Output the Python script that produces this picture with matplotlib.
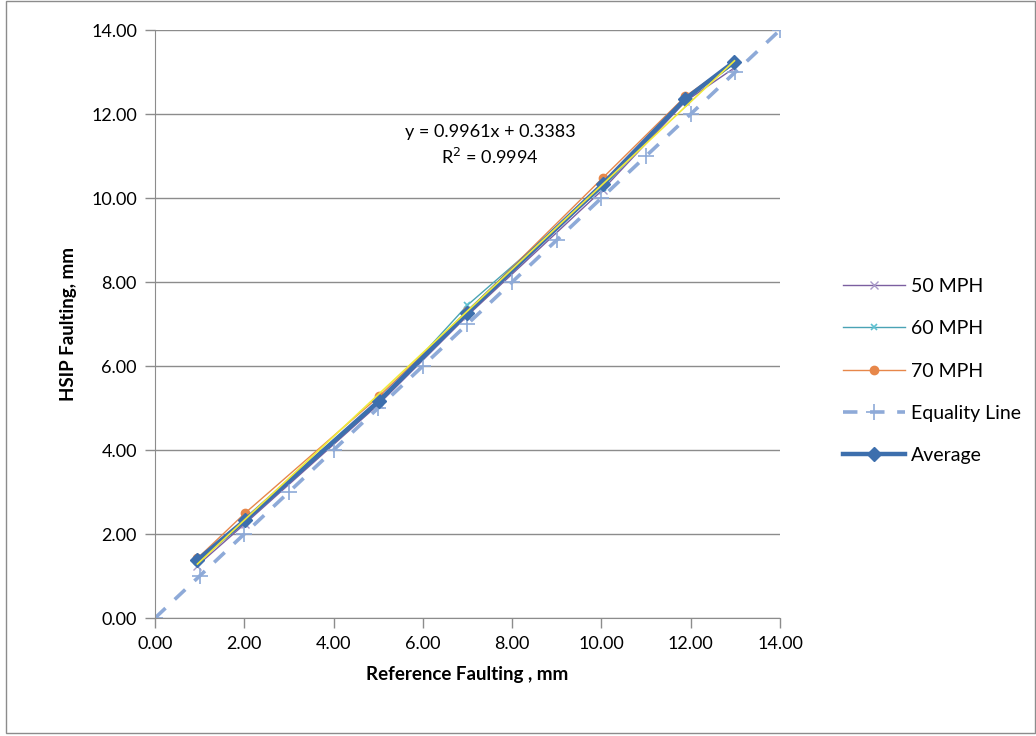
import matplotlib
matplotlib.use("Agg")
import matplotlib.pyplot as plt
from matplotlib.patches import Rectangle
import numpy as np

# reference faulting (x) and HSIP faulting (y), mm
ref_x = [0.95, 2.02, 5.02, 7.0, 10.03, 11.88, 12.98]
mph50 = [1.25, 2.25, 5.10, 7.20, 10.20, 12.30, 13.10]
mph60 = [1.33, 2.30, 5.15, 7.45, 10.25, 12.35, 13.20]
mph70 = [1.42, 2.50, 5.28, 7.30, 10.48, 12.42, 13.25]
average = [1.38, 2.33, 5.17, 7.27, 10.33, 12.36, 13.25]
equality = list(range(0, 15))

slope, intercept, r2 = 0.9961, 0.3383, 0.9994

plt.rcParams['font.family'] = ['Lato', 'DejaVu Sans']

fig = plt.figure(figsize=(10.36, 7.36), dpi=100)
fig.patches.append(Rectangle((0.006, 0.004), 0.993, 0.995, transform=fig.transFigure,
                             fill=False, edgecolor='#8c8c8c', linewidth=1))
ax = fig.add_axes([0.1496, 0.1603, 0.6033, 0.7989])

ax.plot(ref_x, mph50, color='#7b5fa0', lw=1, marker='x', ms=6, mew=1,
        mec='#a899c8', label='50 MPH')
ax.plot(ref_x, mph60, color='#4aa3b5', lw=1, marker='x', ms=5, mew=1.2,
        mec='#5ec0d0', label='60 MPH')
ax.plot(ref_x, mph70, color='#e7874a', lw=1, marker='o', ms=6,
        mfc='#e7874a', mec='#e7874a', label='70 MPH')
ax.plot(equality, equality, color='#8eaad8', lw=2.6, ls=(0, (4, 3.5)),
        marker='+', ms=12, mew=1.2, label='Equality Line')
ax.plot(ref_x, average, color='#3d6fad', lw=3.2, marker='D', ms=7,
        mfc='#3d6fad', mec='#3d6fad', label='Average')

tx = np.array([ref_x[0], ref_x[-1]])
ax.plot(tx, slope * tx + intercept, color='#f0ea3a', lw=1.2, zorder=3)

ax.text(7.5, 11.24, f'y = {slope}x + {intercept}\nR$^2$ = {r2}', ha='center',
        va='center', fontsize=13, linespacing=1.4)

ax.set_xlim(0, 14)
ax.set_ylim(0, 14)
ticks = np.arange(0, 15, 2)
ax.set_xticks(ticks)
ax.set_yticks(ticks)
ax.set_xticklabels([f'{t:.2f}' for t in ticks], fontsize=13)
ax.set_yticklabels([f'{t:.2f}' for t in ticks], fontsize=13)
ax.yaxis.grid(True, color='#8c8c8c', lw=1)
ax.set_axisbelow(True)
for s in ['top', 'right']:
    ax.spines[s].set_visible(False)
for s in ['left', 'bottom']:
    ax.spines[s].set_color('#8c8c8c')
ax.tick_params(axis='both', direction='out', length=7, color='#8c8c8c', width=1, pad=6)

ax.set_xlabel('Reference Faulting , mm', fontsize=13.5, fontweight='bold', labelpad=10)
ax.set_ylabel('HSIP Faulting, mm', fontsize=13.5, fontweight='bold', labelpad=10)

ax.legend(loc='center left', bbox_to_anchor=(1.072, 0.42), frameon=False,
          fontsize=14, labelspacing=1.3, handlelength=3.2, handletextpad=0.3)

fig.savefig('out.png', dpi=100)
